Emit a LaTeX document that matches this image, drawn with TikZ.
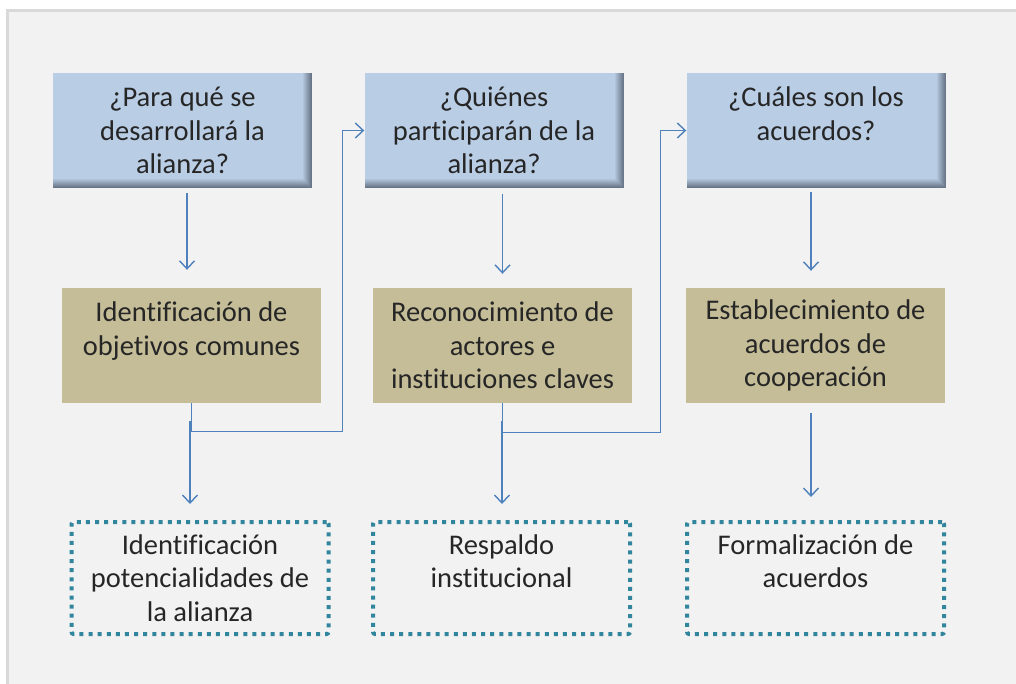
\documentclass[tikz,border=0pt]{standalone}
\usepackage{fontspec}
\setmainfont[Ligatures=NoCommon]{Carlito}
\usepackage{tikz}
\usetikzlibrary{arrows.meta,positioning,calc}

\definecolor{qblue}{HTML}{B9CDE5}
\definecolor{qshade}{HTML}{5F6B7D}
\definecolor{stan}{HTML}{C4BD97}
\definecolor{rteal}{HTML}{31859C}
\definecolor{linkblue}{HTML}{4F81BD}
\definecolor{panel}{HTML}{F2F2F2}
\definecolor{panelline}{HTML}{D9D9D9}
\definecolor{ink}{HTML}{262626}

\begin{document}
\begin{tikzpicture}[
    x=1pt, y=-1pt,
    box/.style={rectangle, minimum width=259pt, minimum height=115pt, inner sep=0pt, align=center, text=ink, font=\fontsize{28.5}{33.5}\selectfont},
    question/.style={box, fill=qblue, path picture={
        \foreach \w [evaluate=\w as \pct using int(100-\w*10)] in {9,...,1} {
            \fill[qshade!\pct!qblue] ([xshift=-\w pt]path picture bounding box.north east) rectangle (path picture bounding box.south east);
            \fill[qshade!\pct!qblue] ([yshift=\w pt]path picture bounding box.south west) rectangle (path picture bounding box.south east);
        }
    }},
    stepbox/.style={box, fill=stan},
    result/.style={box, draw=rteal, line width=4pt, dash pattern=on 4pt off 5.1pt, rounded corners=2pt, minimum width=257pt, minimum height=112pt},
    link/.style={draw=linkblue, line width=1.4pt, -{Straight Barb[length=8pt,width=15pt]}}
]
    \useasboundingbox (0,0) rectangle (1016,684);
    % Panel
    \fill[white] (0,0) rectangle (1016,684);
    \draw[panelline, line width=3pt, fill=panel] (7.5,11) rectangle (1030,700);

    % Questions
    \node[question] (q1) at (182.5,130.5) {¿Para qué se\\desarrollará la\\alianza?};
    \node[question] (q2) at (494,130.5) {¿Quiénes\\participarán de la\\alianza?};
    \node[question] (q3) at (816,130.5) {¿Cuáles son los\\acuerdos?\\~};

    % Steps
    \node[stepbox] (s1) at (191.5,345.5) {Identificación de\\objetivos comunes\\~};
    \node[stepbox] (s2) at (502.5,345.5) {Reconocimiento de\\actores e\\instituciones claves};
    \node[stepbox] (s3) at (815.5,345.5) {Establecimiento de\\acuerdos de\\cooperación};

    % Results
    \node[result] (r1) at (200,578) {Identificación\\potencialidades de\\la alianza};
    \node[result] (r2) at (501.5,578) {Respaldo\\institucional\\~};
    \node[result] (r3) at (815.5,578) {Formalización de\\acuerdos\\~};

    % Question to step
    \draw[link] ([xshift=4.5pt,yshift=-5pt]q1.south) -- ([xshift=-4.5pt,yshift=18pt]s1.north);
    \draw[link] ([yshift=-6pt]q2.south -| s2.north) -- ([yshift=14pt]s2.north);
    \draw[link] ([xshift=-5pt,yshift=-4pt]q3.south) -- ([xshift=-4.5pt,yshift=17pt]s3.north);

    % Step to next question
    \draw[link] (s1.south) -- ++(0,28) -| ([xshift=-22pt]q2.west) -- (q2.west);
    \draw[link] (s2.south) -- ++(0,29) -| ([xshift=-26pt]q3.west) -- (q3.west);

    % Step to result
    \draw[link] ([xshift=-1.5pt,yshift=-18pt]s1.south) -- ([xshift=-1.5pt,yshift=16pt]s1.south |- r1.north);
    \draw[link] ([xshift=-0.5pt,yshift=-18pt]s2.south) -- ([xshift=-0.5pt,yshift=16pt]s2.south |- r2.north);
    \draw[link] ([xshift=-4.5pt,yshift=-10pt]s3.south) -- ([xshift=-4.5pt,yshift=23pt]s3.south |- r3.north);
\end{tikzpicture}
\end{document}
